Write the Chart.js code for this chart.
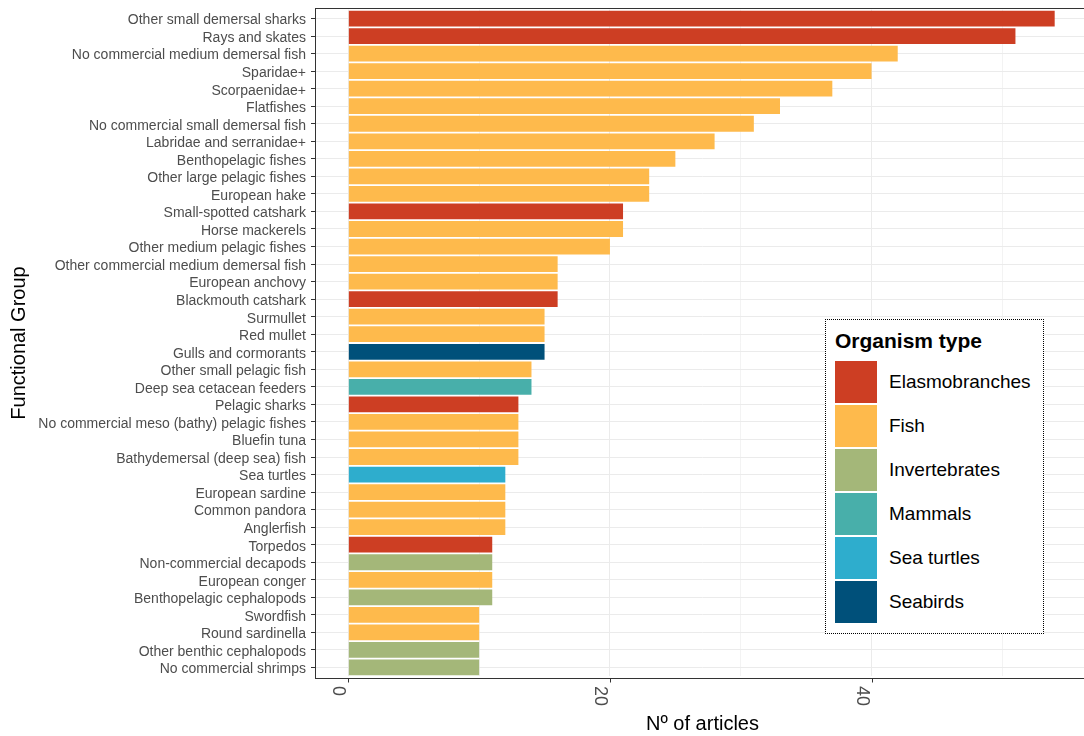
<!DOCTYPE html>
<html>
<head>
<meta charset="utf-8">
<script src="https://cdn.jsdelivr.net/npm/chart.js@4.4.1/dist/chart.umd.min.js"></script>
<style>
  html, body { margin: 0; padding: 0; background: #fff; overflow: hidden; }
  #wrap { position: relative; width: 1100px; height: 736px; }
  #legend {
    position: absolute; left: 825px; top: 319px; width: 219px; height: 315px;
    border: 1px dotted #000; background: #fff; box-sizing: border-box;
    font-family: "Liberation Sans", Arial, sans-serif; color: #000;
  }
  #legend .title { position: absolute; left: 9px; top: 9px; font-weight: bold; font-size: 21px; }
  #legend .item { position: absolute; left: 9px; height: 42px; display: flex; align-items: center; font-size: 19px; }
  #legend .key { width: 42px; height: 42px; margin-right: 12px; }
</style>
</head>
<body>
<div id="wrap">
  <canvas id="myChart" width="1100" height="736"></canvas>
  <div id="legend"></div>
</div>
<script>
// Functional groups, top to bottom
const groups = [
  'Other small demersal sharks', 'Rays and skates', 'No commercial medium demersal fish',
  'Sparidae+', 'Scorpaenidae+', 'Flatfishes', 'No commercial small demersal fish',
  'Labridae and serranidae+', 'Benthopelagic fishes', 'Other large pelagic fishes',
  'European hake', 'Small-spotted catshark', 'Horse mackerels', 'Other medium pelagic fishes',
  'Other commercial medium demersal fish', 'European anchovy', 'Blackmouth catshark',
  'Surmullet', 'Red mullet', 'Gulls and cormorants', 'Other small pelagic fish',
  'Deep sea cetacean feeders', 'Pelagic sharks', 'No commercial meso (bathy) pelagic fishes',
  'Bluefin tuna', 'Bathydemersal (deep sea) fish', 'Sea turtles', 'European sardine',
  'Common pandora', 'Anglerfish', 'Torpedos', 'Non-commercial decapods', 'European conger',
  'Benthopelagic cephalopods', 'Swordfish', 'Round sardinella', 'Other benthic cephalopods',
  'No commercial shrimps'
];

// Number of articles per group
const articles = [
  54, 51, 42, 40, 37, 33, 31, 28, 25, 23, 23, 21, 21, 20, 16, 16, 16, 15, 15, 15,
  14, 14, 13, 13, 13, 13, 12, 12, 12, 12, 11, 11, 11, 11, 10, 10, 10, 10
];

// Organism type per group
const organism = [
  'Elasmobranches', 'Elasmobranches', 'Fish', 'Fish', 'Fish', 'Fish', 'Fish', 'Fish', 'Fish', 'Fish',
  'Fish', 'Elasmobranches', 'Fish', 'Fish', 'Fish', 'Fish', 'Elasmobranches', 'Fish', 'Fish', 'Seabirds',
  'Fish', 'Mammals', 'Elasmobranches', 'Fish', 'Fish', 'Fish', 'Sea turtles', 'Fish', 'Fish', 'Fish',
  'Elasmobranches', 'Invertebrates', 'Fish', 'Invertebrates', 'Fish', 'Fish', 'Invertebrates', 'Invertebrates'
];

const types = ['Elasmobranches', 'Fish', 'Invertebrates', 'Mammals', 'Sea turtles', 'Seabirds'];
const typeColors = ['#cd3e23', '#feba4c', '#a4b779', '#48afaa', '#2eadcd', '#00507a'];

const xTickLabels = [0, 20, 40];

const colorOf = t => typeColors[types.indexOf(t)];

// legend (HTML overlay inside the panel)
const legend = document.getElementById('legend');
legend.innerHTML = '<div class="title">Organism type</div>' + types.map((t, i) =>
  '<div class="item" style="top:' + (41 + i * 44) + 'px"><div class="key" style="background:' +
  typeColors[i] + '"></div>' + t + '</div>').join('');

const FONT = '"Liberation Sans", Arial, sans-serif';
const EXTRA = 1.75; // ggplot discrete expansion beyond Chart.js half-category offset

// frame and rotated x tick labels
const framePlugin = {
  id: 'frame',
  afterDraw(chart) {
    const { ctx, chartArea: a, scales } = chart;
    const top = a.top - EXTRA, bottom = a.bottom + EXTRA;
    ctx.save();
    ctx.strokeStyle = '#333333';
    ctx.lineWidth = 1;
    ctx.strokeRect(Math.round(a.left) + 0.5, Math.round(top) + 0.5, a.right - a.left, Math.round(bottom - top));
    ctx.fillStyle = '#4d4d4d';
    ctx.font = '18px ' + FONT;
    ctx.textAlign = 'left';
    ctx.textBaseline = 'alphabetic';
    xTickLabels.forEach(v => {
      const px = Math.round(scales.x.getPixelForValue(v)) + 0.5;
      ctx.beginPath();
      ctx.moveTo(px, Math.round(bottom) + 0.5);
      ctx.lineTo(px, Math.round(bottom) + 4.5);
      ctx.stroke();
      ctx.save();
      ctx.translate(px - 16, Math.round(bottom) + 8);
      ctx.rotate(Math.PI / 2);
      ctx.fillText(String(v), 0, 0);
      ctx.restore();
    });
    ctx.restore();
  }
};

const data = {
  labels: groups,
  datasets: [{
    label: 'Nº of articles',
    data: articles,
    backgroundColor: organism.map(colorOf),
    borderWidth: 0,
    barPercentage: 0.9,
    categoryPercentage: 1.0
  }]
};

const config = {
  type: 'bar',
  data: data,
  options: {
    indexAxis: 'y',
    responsive: false,
    animation: false,
    devicePixelRatio: 1,
    layout: { padding: { left: 0, right: 10, top: 8 + EXTRA, bottom: 0 } },
    plugins: { legend: { display: false }, tooltip: { enabled: false } },
    scales: {
      x: {
        type: 'linear',
        min: -2.55,
        max: 56.7,
        afterBuildTicks: s => { s.ticks = [0, 10, 20, 30, 40, 50].map(v => ({ value: v })); },
        afterFit: s => { s.height = 736 - (678 - EXTRA); s.paddingLeft = 0; s.paddingRight = 0; },
        ticks: { display: false },
        grid: {
          drawTicks: false,
          color: c => (c.tick && c.tick.value % 20 === 0) ? '#ebebeb' : '#f3f3f3',
          lineWidth: 1
        },
        border: { display: false },
        title: {
          display: true,
          text: 'Nº of articles',
          color: '#000',
          font: { family: FONT, size: 20 },
          padding: { top: 0, bottom: 0 }
        }
      },
      y: {
        afterFit: s => { s.width = 315; s.paddingTop = 0; s.paddingBottom = 0; },
        ticks: { color: '#4d4d4d', font: { family: FONT, size: 14 }, padding: 5, labelOffset: 2, autoSkip: false },
        grid: { offset: false, color: '#ebebeb', lineWidth: 1, tickLength: 4, tickColor: '#333333' },
        border: { display: false },
        title: {
          display: true,
          text: 'Functional Group',
          color: '#000',
          font: { family: FONT, size: 20 },
          padding: { top: 7, bottom: 0 }
        }
      }
    }
  },
  plugins: [framePlugin]
};

const ctx = document.getElementById('myChart').getContext('2d');
const myChart = new Chart(ctx, config);
</script>
</body>
</html>
